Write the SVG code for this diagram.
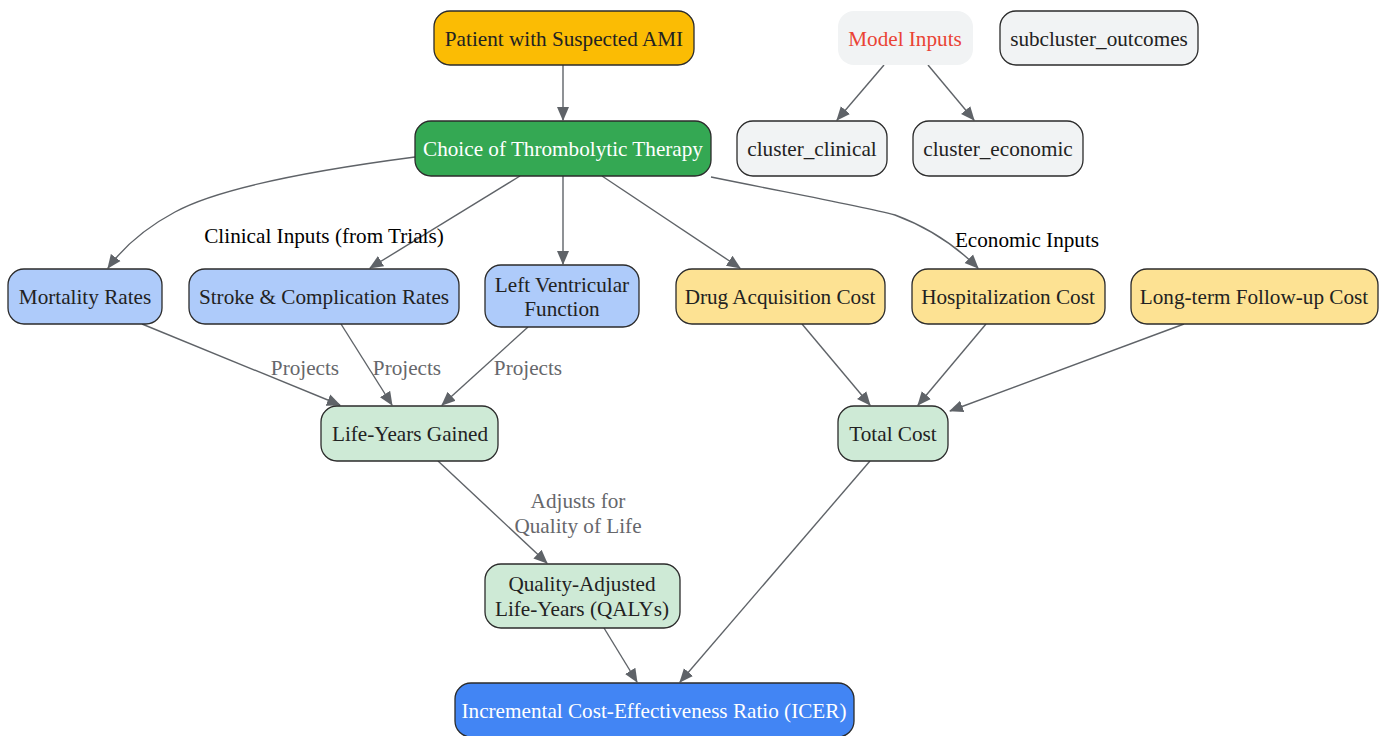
<svg xmlns="http://www.w3.org/2000/svg" width="1388" height="736" viewBox="0 0 1388 736">
<style>
.n rect{stroke:#2b2b2b;stroke-width:1.3}
.n text{font-family:"Liberation Serif","Times New Roman",serif;font-size:21.2px;fill:#222;text-anchor:middle;dominant-baseline:central}
.e path{fill:none;stroke:#5f6368;stroke-width:1.4}
.lbl{font-family:"Liberation Serif","Times New Roman",serif;font-size:21.2px;fill:#66676b;text-anchor:middle;dominant-baseline:central}
.cl{font-family:"Liberation Serif","Times New Roman",serif;font-size:21.2px;fill:#000;text-anchor:middle;dominant-baseline:central}
.blue rect{fill:#aecbfa}
.yel rect{fill:#fde293}
.grn rect{fill:#ceead6}
.gry rect{fill:#f1f3f4}
</style>
<defs>
<marker id="ah" markerWidth="14" markerHeight="14" viewBox="0 0 14 14" refX="13" refY="7" orient="auto" markerUnits="userSpaceOnUse">
<path d="M0,1 L14,7 L0,13 Z" fill="#5f6368"/>
</marker>
</defs>
<rect width="1388" height="736" fill="#fff"/>
<g class="e">
<path d="M563,65 L563,120" marker-end="url(#ah)"/>
<path d="M415,157 C300,172 215,190 175,212 C145,228 125,245 108,268" marker-end="url(#ah)"/>
<path d="M520,176 L370,268" marker-end="url(#ah)"/>
<path d="M563,176 L563,264" marker-end="url(#ah)"/>
<path d="M602,176 L740,268" marker-end="url(#ah)"/>
<path d="M711,177 C800,195 860,206 895,215 C930,228 955,245 978,268" marker-end="url(#ah)"/>
<path d="M142,324 L340,405" marker-end="url(#ah)"/>
<path d="M341,324 L392,405" marker-end="url(#ah)"/>
<path d="M528,327 L442,405" marker-end="url(#ah)"/>
<path d="M802,324 L870,405" marker-end="url(#ah)"/>
<path d="M986,324 L918,405" marker-end="url(#ah)"/>
<path d="M1184,324 L950,411" marker-end="url(#ah)"/>
<path d="M438,461 L547,563" marker-end="url(#ah)"/>
<path d="M870,461 L680,682" marker-end="url(#ah)"/>
<path d="M604,628 L637,682" marker-end="url(#ah)"/>
<path d="M884,65 L837,120" marker-end="url(#ah)"/>
<path d="M928,65 L974,120" marker-end="url(#ah)"/>
</g>
<g id="labels">
<text class="cl" x="324" y="236">Clinical Inputs (from Trials)</text>
<text class="cl" x="1027" y="240">Economic Inputs</text>
<text class="lbl" x="305" y="368">Projects</text>
<text class="lbl" x="407" y="368">Projects</text>
<text class="lbl" x="528" y="368">Projects</text>
<text class="lbl" x="578" y="501">Adjusts for</text>
<text class="lbl" x="578" y="526">Quality of Life</text>
</g>
<g id="patient" class="n"><rect x="434" y="11" width="260" height="54" rx="16" fill="#fbbc04"/><text x="564" y="39">Patient with Suspected AMI</text></g>
<g id="choice" class="n"><rect x="415" y="121" width="296" height="55" rx="16" fill="#34a853"/><text x="563" y="149" style="fill:#fff">Choice of Thrombolytic Therapy</text></g>
<g id="modelinputs" class="n"><rect x="838" y="11" width="135" height="54" rx="16" fill="#f1f3f4" style="stroke:none"/><text x="905" y="39" style="fill:#ea4335">Model Inputs</text></g>
<g id="subcluster" class="n gry"><rect x="1000" y="11" width="198" height="54" rx="16"/><text x="1099" y="39">subcluster_outcomes</text></g>
<g id="cclinical" class="n gry"><rect x="737" y="121" width="150" height="55" rx="16"/><text x="812" y="149">cluster_clinical</text></g>
<g id="ceconomic" class="n gry"><rect x="913" y="121" width="170" height="55" rx="16"/><text x="998" y="149">cluster_economic</text></g>
<g id="mortality" class="n blue"><rect x="8" y="269" width="154" height="55" rx="16"/><text x="85" y="297">Mortality Rates</text></g>
<g id="stroke" class="n blue"><rect x="189" y="269" width="270" height="55" rx="16"/><text x="324" y="297">Stroke &amp; Complication Rates</text></g>
<g id="lv" class="n blue"><rect x="485" y="265" width="154" height="62" rx="16"/><text x="562" y="285">Left Ventricular</text><text x="562" y="309">Function</text></g>
<g id="drug" class="n yel"><rect x="676" y="269" width="209" height="55" rx="16"/><text x="780" y="297">Drug Acquisition Cost</text></g>
<g id="hosp" class="n yel"><rect x="912" y="269" width="193" height="55" rx="16"/><text x="1008" y="297">Hospitalization Cost</text></g>
<g id="longterm" class="n yel"><rect x="1131" y="269" width="247" height="55" rx="16"/><text x="1254" y="297">Long-term Follow-up Cost</text></g>
<g id="lyg" class="n grn"><rect x="321" y="406" width="177" height="55" rx="16"/><text x="410" y="434">Life-Years Gained</text></g>
<g id="total" class="n grn"><rect x="838" y="406" width="110" height="55" rx="16"/><text x="893" y="434">Total Cost</text></g>
<g id="qaly" class="n grn"><rect x="485" y="564" width="195" height="64" rx="16"/><text x="582" y="584">Quality-Adjusted</text><text x="582" y="609">Life-Years (QALYs)</text></g>
<g id="icer" class="n"><rect x="455" y="683" width="399" height="54" rx="16" fill="#4285f4"/><text x="654" y="711" style="fill:#fff">Incremental Cost-Effectiveness Ratio (ICER)</text></g>
</svg>
